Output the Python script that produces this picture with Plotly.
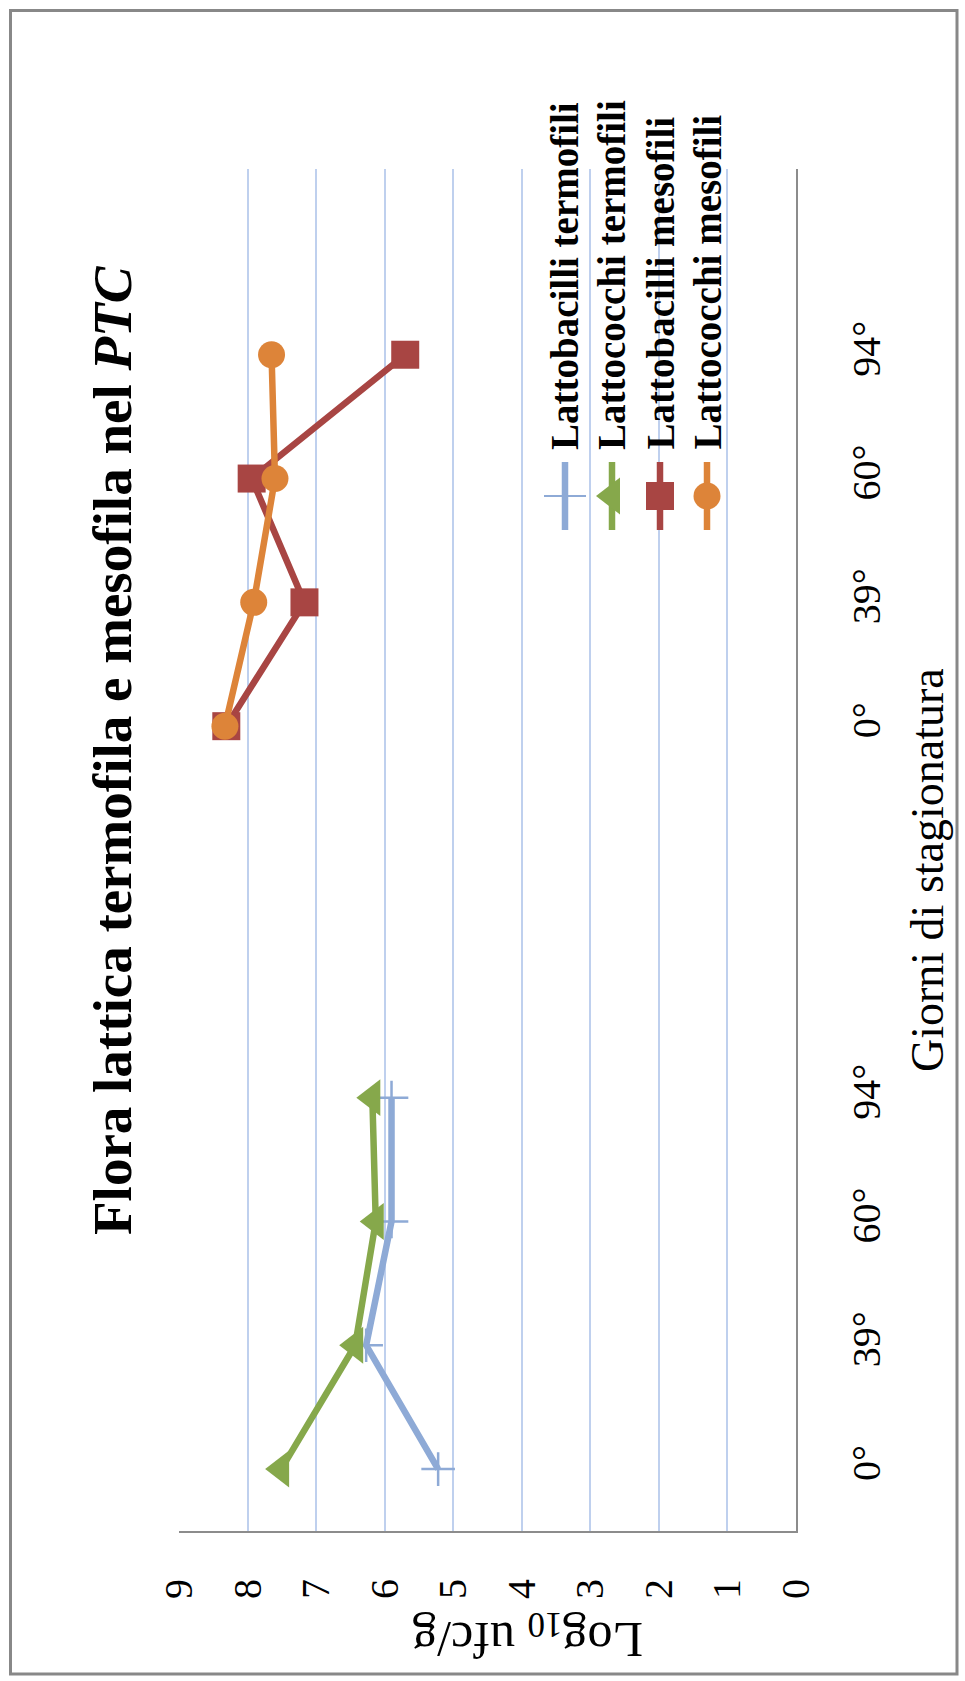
import plotly.graph_objects as go

# Sampling days, shown once for each bacterial group
days = ["0°", "39°", "60°", "94°"]

# Log10 ufc/g counts per sampling day
lattobacilli_termofili = [5.22, 6.27, 5.90, 5.90]
lattococchi_termofili = [7.51, 6.43, 6.13, 6.18]
lattobacilli_mesofili = [8.31, 7.17, 7.94, 5.70]
lattococchi_mesofili = [8.33, 7.91, 7.60, 7.65]

value_ticks = list(range(0, 10))

series_names = [
    "Lattobacilli termofili",
    "Lattococchi termofili",
    "Lattobacilli mesofili",
    "Lattococchi mesofili",
]
series_colors = ["#8eaad6", "#86a84b", "#a84543", "#dd8439"]
series_symbols = ["cross-thin", "triangle-left", "square", "circle"]
series_sizes = [24, 32, 28, 27]

# Category slots: thermophilic days, two empty slots, mesophilic days, one empty slot
n_slots = 2 * len(days) + 3
thermo_pos = list(range(0, len(days)))
meso_pos = [len(days) + 2 + i for i in range(len(days))]

W, H = 965, 1681
L, R, T, B = 179, 796, 169, 1531


def px(x):
    return (x - L) / (R - L)


def py(y):
    return (B - y) / (B - T)


FONT = "Liberation Serif"
GRID = "#bfd0ee"
AXIS = "#8c8c8c"
LINE_W = 6.5

fig = go.Figure()

series_values = [lattobacilli_termofili, lattococchi_termofili,
                 lattobacilli_mesofili, lattococchi_mesofili]
series_positions = [thermo_pos, thermo_pos, meso_pos, meso_pos]

for name, vals, pos, col, sym, size in zip(series_names, series_values, series_positions,
                                            series_colors, series_symbols, series_sizes):
    marker = dict(symbol=sym, size=size, color=col)
    if sym.endswith("-thin"):
        marker["line"] = dict(color=col, width=2.5)
    else:
        marker["line"] = dict(width=0)
    fig.add_trace(go.Scatter(
        x=vals, y=pos, mode="lines+markers", name=name,
        line=dict(color=col, width=LINE_W), marker=marker,
        showlegend=False, cliponaxis=False,
    ))

# Legend, drawn upright along the top of the chart (pixel-based overlay axes)
legend_x = [565, 612, 660, 707]
legend_line_top, legend_line_bottom, legend_marker_y = 462, 530, 496
legend_text_bottom = 452

for name, lx, col, sym, size in zip(series_names, legend_x, series_colors,
                                    series_symbols, series_sizes):
    fig.add_trace(go.Scatter(
        x=[lx, lx], y=[legend_line_top, legend_line_bottom], mode="lines",
        line=dict(color=col, width=LINE_W), xaxis="x2", yaxis="y2",
        showlegend=False, hoverinfo="skip", cliponaxis=False,
    ))
    marker = dict(symbol=sym, size=size + (6 if sym.endswith("-thin") else 0), color=col)
    if sym.endswith("-thin"):
        marker["line"] = dict(color=col, width=2)
    else:
        marker["line"] = dict(width=0)
    fig.add_trace(go.Scatter(
        x=[lx], y=[legend_marker_y], mode="markers", marker=marker,
        xaxis="x2", yaxis="y2", showlegend=False, hoverinfo="skip", cliponaxis=False,
    ))

annotations = []
for name, lx in zip(series_names, legend_x):
    annotations.append(dict(
        text=f"<b>{name}</b>", textangle=-90, xref="paper", yref="paper",
        x=px(lx), y=py(legend_text_bottom), xanchor="center", yanchor="bottom",
        showarrow=False, font=dict(family=FONT, size=39, color="black"),
    ))

annotations.append(dict(
    text="<b>Flora lattica termofila e mesofila nel <i>PTC</i></b>", textangle=-90,
    xref="paper", yref="paper", x=px(112), y=py(750), xanchor="center", yanchor="middle",
    showarrow=False, font=dict(family=FONT, size=55, color="black"),
))
annotations.append(dict(
    text="Giorni di stagionatura", textangle=-90,
    xref="paper", yref="paper", x=px(927), y=py(870), xanchor="center", yanchor="middle",
    showarrow=False, font=dict(family=FONT, size=46, color="black"),
))
annotations.append(dict(
    text="Log<sub>10</sub> ufc/g", textangle=180,
    xref="paper", yref="paper", x=px(528), y=py(1636), xanchor="center", yanchor="middle",
    showarrow=False, font=dict(family=FONT, size=50, color="black"),
))

shapes = [
    # white legend backdrop over the gridlines
    dict(type="rect", xref="paper", yref="paper", x0=px(530), x1=px(722),
         y0=py(165), y1=py(540), fillcolor="white", line=dict(width=0), layer="between"),
    # chart frame
    dict(type="rect", xref="paper", yref="paper", x0=px(10.5), x1=px(957),
         y0=py(10.5), y1=py(1674), fillcolor="rgba(0,0,0,0)",
         line=dict(color="#888888", width=3), layer="above"),
]

fig.update_layout(
    width=W, height=H,
    margin=dict(l=L, r=W - R, t=T, b=H - B, pad=0),
    paper_bgcolor="white", plot_bgcolor="white",
    showlegend=False,
    font=dict(family=FONT, color="black"),
    xaxis=dict(
        range=[9, 0], tickvals=value_ticks, ticktext=[str(v) for v in value_ticks],
        tickangle=-90, showgrid=True, gridcolor=GRID, gridwidth=1.5,
        showline=True, linecolor=AXIS, linewidth=2, zeroline=False,
        ticks="", ticklabelstandoff=30, tickfont=dict(family=FONT, size=40, color="black"),
        fixedrange=True,
    ),
    yaxis=dict(
        range=[-0.5, n_slots - 0.5], tickvals=thermo_pos + meso_pos, ticktext=days + days,
        side="right", tickangle=-90, showgrid=False, showline=True, linecolor=AXIS,
        linewidth=2, zeroline=False, ticks="", ticklabelstandoff=34,
        tickfont=dict(family=FONT, size=40, color="black"), fixedrange=True,
    ),
    xaxis2=dict(range=[L, R], overlaying="x", visible=False, fixedrange=True),
    yaxis2=dict(range=[B, T], overlaying="y", visible=False, fixedrange=True),
    annotations=annotations,
    shapes=shapes,
)

fig.write_html("out.html")
